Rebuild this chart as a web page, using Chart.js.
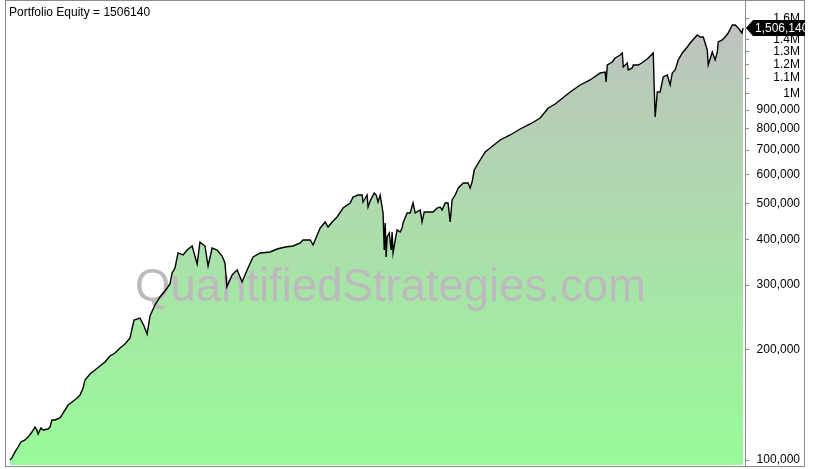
<!DOCTYPE html>
<html>
<head>
<meta charset="utf-8">
<script src="https://cdn.jsdelivr.net/npm/chart.js@4/dist/chart.umd.min.js"></script>
<style>
  html, body { margin: 0; padding: 0; background: #fff; }
  #wrap { width: 815px; height: 469px; }
</style>
</head>
<body>
<div id="wrap"><canvas id="equityChart" width="815" height="469"></canvas></div>
<script>
// Time of each reading (decimal years) and the equity at that time
const years = [
  1993.10, 1993.18, 1993.31, 1993.44, 1993.56, 1993.73, 1993.86, 1994.02, 1994.15, 1994.23,
  1994.28, 1994.40, 1994.49, 1994.70, 1994.78, 1994.86, 1994.99, 1995.20, 1995.33, 1995.54,
  1995.71, 1995.92, 1996.04, 1996.17, 1996.25, 1996.46, 1996.67, 1996.88, 1997.09, 1997.30,
  1997.51, 1997.72, 1997.93, 1998.14, 1998.31, 1998.56, 1998.73, 1998.86, 1998.98, 1999.19,
  1999.40, 1999.61, 1999.82, 1999.91, 2000.03, 2000.16, 2000.37, 2000.54, 2000.75, 2000.96,
  2001.08, 2001.29, 2001.42, 2001.59, 2001.80, 2002.01, 2002.13, 2002.21, 2002.43, 2002.64,
  2002.85, 2003.06, 2003.31, 2003.61, 2004.03, 2004.32, 2004.66, 2004.99, 2005.29, 2005.41,
  2005.71, 2005.83, 2006.13, 2006.34, 2006.46, 2006.63, 2006.84, 2007.09, 2007.39, 2007.51,
  2007.72, 2007.89, 2007.93, 2008.10, 2008.14, 2008.23, 2008.40, 2008.48, 2008.56, 2008.65,
  2008.73, 2008.77, 2008.82, 2008.86, 2008.90, 2008.94, 2009.03, 2009.11, 2009.15, 2009.19,
  2009.28, 2009.36, 2009.49, 2009.57, 2009.61, 2009.78, 2009.91, 2010.03, 2010.12, 2010.33,
  2010.41, 2010.50, 2010.66, 2010.87, 2011.04, 2011.17, 2011.25, 2011.38, 2011.50, 2011.59,
  2011.67, 2011.80, 2011.93, 2012.14, 2012.34, 2012.43, 2012.51, 2012.60, 2012.85, 2013.06,
  2013.27, 2013.69, 2014.11, 2014.53, 2014.95, 2015.37, 2015.71, 2016.00, 2016.21, 2016.63,
  2017.05, 2017.47, 2017.89, 2018.10, 2018.14, 2018.19, 2018.40, 2018.52, 2018.73, 2018.82,
  2018.86, 2019.03, 2019.07, 2019.24, 2019.28, 2019.49, 2019.70, 2019.91, 2020.12, 2020.16,
  2020.20, 2020.29, 2020.41, 2020.54, 2020.71, 2020.83, 2020.92, 2021.04, 2021.17, 2021.34,
  2021.55, 2021.67, 2021.97, 2022.09, 2022.22, 2022.39, 2022.43, 2022.60, 2022.72, 2022.81,
  2022.85, 2023.02, 2023.14, 2023.27, 2023.44, 2023.56, 2023.69, 2023.85, 2023.89
];

const equity = [
  100000, 101300, 105200, 108500, 112000, 113400, 115500, 119200, 123000, 120700,
  117700, 122300, 120700, 121500, 123000, 128600, 128600, 130200, 134300, 141200,
  143900, 147600, 150400, 157200, 165300, 171600, 176000, 180400, 185000, 192100,
  195800, 202000, 207200, 215100, 240900, 243900, 232000, 220600, 247000, 264600,
  278300, 289000, 302000, 323600, 333900, 366900, 362300, 373800, 383300, 342400,
  393100, 383300, 338100, 378500, 373800, 360000, 344500, 296300, 319500, 329700,
  305800, 329700, 357700, 366900, 369200, 376200, 380900, 383300, 390600, 398000,
  398000, 385700, 429200, 445700, 431900, 445700, 459900, 486600, 502200, 521400,
  528000, 528000, 505300, 528000, 489700, 508500, 534700, 528000, 505300, 528000,
  489700, 471600, 373800, 442900, 357700, 405600, 415900, 373800, 418600, 366900,
  398000, 423900, 418600, 429200, 442900, 471600, 471600, 502200, 471600, 480600,
  445700, 474600, 474600, 474600, 486600, 489700, 480600, 502200, 502200, 445700,
  511700, 528000, 551700, 569300, 569300, 551700, 572900, 617700, 657700, 691600,
  709200, 745800, 769600, 799100, 824600, 856200, 911700, 934900, 958700, 1008200,
  1053500, 1087100, 1136000, 1143200, 1073600, 1194400, 1217100, 1248100, 1271800, 1287900,
  1179500, 1209600, 1157500, 1172200, 1194400, 1194400, 1217100, 1248100, 1287900, 1040400,
  861700, 1008200, 1008200, 1107800, 1121800, 1053500, 1136000, 1157500, 1232500, 1287900,
  1337300, 1371300, 1442000, 1424000, 1424000, 1312400, 1194400, 1296000, 1232500, 1296000,
  1380000, 1397500, 1424000, 1460000, 1535600, 1535600, 1506900, 1460000, 1506140
];

// Axis ticks on the right
const tickValues = [
  100000, 200000, 300000, 400000, 500000, 600000, 700000, 800000, 900000,
  1000000, 1100000, 1200000, 1300000, 1400000, 1500000, 1600000
];
const tickLabels = [
  '100,000', '200,000', '300,000', '400,000', '500,000', '600,000', '700,000', '800,000', '900,000',
  '1M', '1.1M', '1.2M', '1.3M', '1.4M', '1.5M', '1.6M'
];

const lastValue = equity[equity.length - 1];
const FONT = '"Liberation Sans", Arial, sans-serif';

const points = years.map((t, i) => ({ x: t, y: equity[i] }));

// Gradient for the area under the equity curve
function areaFill(context) {
  const area = context.chart.chartArea;
  if (!area) return '#98fb98';
  const g = context.chart.ctx.createLinearGradient(0, area.top, 0, area.bottom);
  g.addColorStop(0, '#c0c0c0');
  g.addColorStop(1, '#98fb98');
  return g;
}

// Watermark goes over the fill but under the line
const watermark = {
  id: 'watermark',
  afterDatasetDraw(chart, args) {
    if (args.index !== 0) return;
    const ctx = chart.ctx;
    ctx.save();
    ctx.font = '45.5px ' + FONT;
    ctx.fillStyle = '#bdbabd';
    ctx.textAlign = 'left';
    ctx.textBaseline = 'alphabetic';
    ctx.fillText('QuantifiedStrategies.com', 135, 301);
    ctx.restore();
  }
};

// Frame, title and the last value marker
const decorations = {
  id: 'decorations',
  afterDraw(chart) {
    const ctx = chart.ctx;
    const y = chart.scales.y.getPixelForValue(lastValue);
    ctx.save();

    ctx.strokeStyle = '#8c8c8c';
    ctx.lineWidth = 1;
    ctx.strokeRect(5.5, 0.5, 799, 466);

    ctx.font = '12px ' + FONT;
    ctx.fillStyle = '#000';
    ctx.textBaseline = 'alphabetic';
    ctx.fillText('Portfolio Equity = ' + lastValue, 9, 16);

    ctx.beginPath();
    ctx.rect(740, 0, 65, 469);
    ctx.clip();
    ctx.fillStyle = '#000';
    ctx.beginPath();
    ctx.moveTo(746, y);
    ctx.lineTo(753, y - 8);
    ctx.lineTo(806, y - 8);
    ctx.lineTo(806, y + 8);
    ctx.lineTo(753, y + 8);
    ctx.closePath();
    ctx.fill();
    ctx.fillStyle = '#fff';
    ctx.textBaseline = 'middle';
    ctx.fillText(lastValue.toLocaleString('en-US'), 755, y + 1);
    ctx.restore();
  }
};

const ctx = document.getElementById('equityChart').getContext('2d');
new Chart(ctx, {
  type: 'line',
  data: {
    datasets: [{
      data: points,
      borderWidth: 0,
      borderColor: 'rgba(0,0,0,0)',
      backgroundColor: areaFill,
      fill: 'start',
      pointRadius: 0,
      order: 2
    }, {
      data: points,
      borderWidth: 1.4,
      borderColor: '#000',
      fill: false,
      pointRadius: 0,
      order: 1
    }]
  },
  options: {
    responsive: false,
    animation: false,
    events: [],
    layout: { padding: { left: 7, top: 1, right: 15, bottom: 4 } },
    plugins: {
      legend: { display: false },
      tooltip: { enabled: false }
    },
    scales: {
      x: {
        type: 'linear',
        display: false,
        min: 1992.974,
        max: 2023.974
      },
      y: {
        type: 'logarithmic',
        position: 'right',
        min: 96910,
        max: 1785000,
        afterBuildTicks: scale => {
          scale.ticks = tickValues.map(v => ({ value: v }));
        },
        afterFit: scale => {
          scale.width = 55;
          scale.paddingTop = 0;
          scale.paddingBottom = 0;
        },
        border: { display: true, color: '#8c8c8c' },
        grid: {
          drawOnChartArea: false,
          drawTicks: true,
          tickLength: 4,
          color: '#8c8c8c'
        },
        ticks: {
          autoSkip: false,
          crossAlign: 'far',
          padding: 3,
          color: '#000',
          font: { family: FONT, size: 12 },
          callback: value => {
            const k = tickValues.indexOf(value);
            return k >= 0 ? tickLabels[k] : '';
          }
        }
      }
    }
  },
  plugins: [watermark, decorations]
});
</script>
</body>
</html>
